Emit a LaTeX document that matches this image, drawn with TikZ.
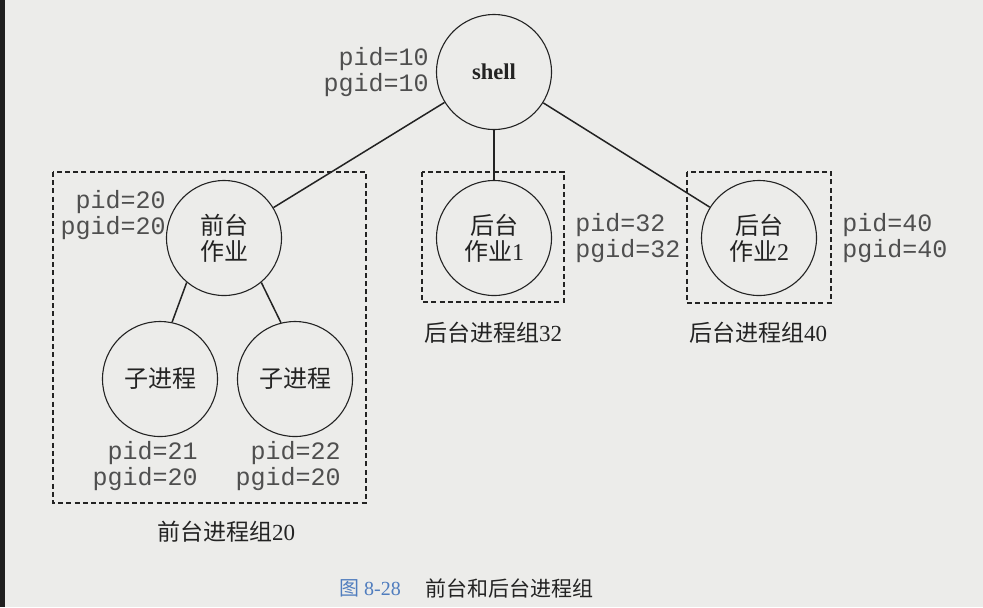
\documentclass[tikz,border=0pt]{standalone}
\usepackage{fontspec}
\setmainfont{Liberation Serif}
\setmonofont{Liberation Mono}
\newfontfamily\cjk{Noto Sans CJK SC}
\usepackage{tikz}
\usetikzlibrary{positioning}
\definecolor{paper}{RGB}{236,236,234}
\definecolor{ink}{RGB}{35,35,35}
\definecolor{capblue}{RGB}{80,125,190}

\begin{document}
\begin{tikzpicture}[x=0.5pt,y=-0.5pt,
proc/.style={circle,draw=ink,line width=0.55pt,minimum size=57.5pt,inner sep=0pt,align=center,text=ink,font=\fontsize{12}{13}\selectfont},
ids/.style={inner sep=0pt,text=ink!80,font=\fontsize{12.5}{11.5}\selectfont\ttfamily},
grp/.style={draw=ink,line width=0.6pt,dash pattern=on 2.5pt off 1.6pt},
grplabel/.style={inner sep=0pt,text=ink,font=\fontsize{11.5}{13}\selectfont},
link/.style={draw=ink,line width=0.75pt}]
\fill[paper] (0,0) rectangle (983,607);
\fill[black!88] (0,0) rectangle (5,607);
\useasboundingbox (0,0) rectangle (983,607);
% processes
\node[proc,font=\fontsize{11.3}{13}\selectfont\bfseries] (shell) at (494,72) {shell};
\node[proc] (fg) at (224,238) {{\cjk 前台}\\{\cjk 作业}};
\node[proc] (bg1) at (494,238) {{\cjk 后台}\\{\cjk 作业}1};
\node[proc] (bg2) at (759,238) {{\cjk 后台}\\{\cjk 作业}2};
\node[proc] (kid1) at (160,379) {\cjk 子进程};
\node[proc] (kid2) at (295,379) {\cjk 子进程};
% pid / pgid
\foreach \nm/\x/\y/\pid/\pgid in %
{shell/429/72/10/10,fg/166/215/20/20,kid1/198/466/21/20,kid2/341/466/22/20} {
   \node[ids,anchor=east,align=right] (id\nm) at (\x,\y) {pid=\pid\\pgid=\pgid};
}
\foreach \nm/\x/\y/\pid in %
{bg1/575/238/32,bg2/842/238/40} {
   \node[ids,anchor=west,align=left] (id\nm) at (\x,\y) {pid=\pid\\pgid=\pid};
}
% links
\draw[link] (shell) -- (fg);
\draw[link] (shell) -- (bg1);
\draw[link] (shell) -- (bg2);
\draw[link] (fg.230) -- (kid1.78);
\draw[link] (fg.310) -- (kid2.104);
% groups
\draw[grp] (53,172) rectangle (366,503);
\draw[grp] (422,172) rectangle (564,302);
\draw[grp] (687,172) rectangle (831,303);
\node[grplabel] (grp20) at (226,532) {{\cjk 前台进程组}20};
\node[grplabel] (grp32) at (493,333) {{\cjk 后台进程组}32};
\node[grplabel] (grp40) at (758,333) {{\cjk 后台进程组}40};
% caption
\node[inner sep=0pt,text=capblue,font=\fontsize{10}{12}\selectfont] (capnum) at (370,588) {{\cjk 图}\ 8-28};
\node[inner sep=0pt,text=ink,right=12pt of capnum,font=\fontsize{10.5}{12}\selectfont\cjk] (captext) {前台和后台进程组};
\end{tikzpicture}
\end{document}
